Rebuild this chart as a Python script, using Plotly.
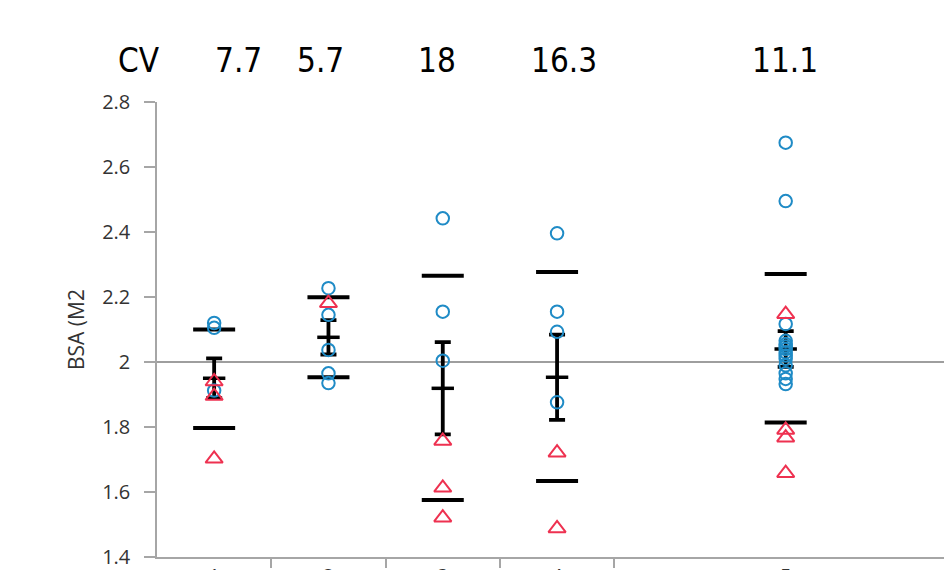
import plotly.graph_objects as go

# ---- data ----
group_x = [1, 2, 3, 4, 6]            # category 5 occupies a wider slot
group_labels = ["1", "2", "3", "4", "5"]
boundaries = [1.5, 2.5, 3.5, 4.5]
cv_text = ["CV", "7.7", "5.7", "18", "16.3", "11.1"]
cv_xpaper = [-0.023, 0.103, 0.208, 0.356, 0.517, 0.798]

circles = [
    [2.12, 2.105, 1.912],
    [2.227, 2.145, 2.037, 1.965, 1.935],
    [2.442, 2.155, 2.004],
    [2.396, 2.155, 2.093, 1.876],
    [2.675, 2.495, 2.117, 2.065, 2.055, 2.048, 2.04, 2.03, 2.02, 2.01,
     1.99, 1.965, 1.948, 1.932],
]
triangles = [
    [1.94, 1.895, 1.702],
    [2.181],
    [1.757, 1.613, 1.521],
    [1.721, 1.488],
    [2.147, 1.791, 1.767, 1.658],
]
means = [1.95, 2.076, 1.919, 1.953, 2.04]
sd_upper = [2.10, 2.199, 2.265, 2.277, 2.271]
sd_lower = [1.797, 1.953, 1.575, 1.634, 1.814]
sem = [0.061, 0.053, 0.142, 0.131, 0.055]

BLUE = "#1F8BC6"
RED = "#EE3150"
GRAY = "#A6A6A6"
TICKFONT = "Open Sans, Noto Sans, DejaVu Sans, sans-serif"

fig = go.Figure()

# SD bars (long black dashes)
fig.add_trace(go.Scatter(
    x=group_x + group_x, y=sd_upper + sd_lower, mode="markers",
    marker=dict(symbol="line-ew", size=30, line=dict(width=4, color="black")),
    hoverinfo="skip", showlegend=False))

# mean +/- SEM
fig.add_trace(go.Scatter(
    x=group_x, y=means, mode="markers",
    marker=dict(symbol="line-ew", size=16, line=dict(width=3.5, color="black")),
    error_y=dict(type="data", array=sem, visible=True, color="black",
                 thickness=3.8, width=8),
    hoverinfo="skip", showlegend=False))

# individual points
cx, cy, tx, ty = [], [], [], []
for gx, vals in zip(group_x, circles):
    cx += [gx] * len(vals)
    cy += vals
for gx, vals in zip(group_x, triangles):
    tx += [gx] * len(vals)
    ty += vals

fig.add_trace(go.Scatter(
    x=cx, y=cy, mode="markers",
    marker=dict(symbol="circle-open", size=12.5, color=BLUE, line=dict(width=2, color=BLUE)),
    showlegend=False))
fig.add_trace(go.Scatter(
    x=tx, y=ty, mode="markers",
    marker=dict(symbol="triangle-up-open", size=15, color=RED, line=dict(width=2, color=RED)),
    showlegend=False))

# CV labels
for t, xp in zip(cv_text, cv_xpaper):
    fig.add_annotation(x=xp, xref="paper", y=1.092, yref="paper", text=t, showarrow=False,
                       xanchor="center", yanchor="middle",
                       font=dict(family="Liberation Sans Narrow, DejaVu Sans Condensed, Roboto, sans-serif",
                                 size=33, color="black"))

fig.update_layout(
    width=944, height=570,
    margin=dict(l=157, r=0, t=102, b=13, autoexpand=False),
    plot_bgcolor="white", paper_bgcolor="white",
    xaxis=dict(range=[0.5, 7.385], tickvals=group_x, ticktext=group_labels,
               ticks="", showgrid=False, zeroline=False, showline=True,
               linecolor=GRAY, linewidth=1.5, automargin=False,
               tickfont=dict(family=TICKFONT, size=20, color="#333333")),
    xaxis2=dict(overlaying="x", matches="x", anchor="y", side="bottom",
                tickvals=boundaries, ticks="outside", ticklen=10, tickwidth=1.5,
                tickcolor=GRAY, showticklabels=False, showgrid=False,
                zeroline=False, showline=False),
    yaxis=dict(range=[1.4, 2.8], tickvals=[1.4, 1.6, 1.8, 2.0, 2.2, 2.4, 2.6, 2.8],
               ticktext=["1.4", "1.6", "1.8", "2", "2.2", "2.4", "2.6", "2.8"],
               ticks="outside", ticklen=11, tickwidth=1.5, tickcolor=GRAY,
               showline=True, linecolor=GRAY, linewidth=1.5, showgrid=False,
               zeroline=False, automargin=False, ticklabelstandoff=10,
               tickfont=dict(family=TICKFONT, size=20, color="#333333"),
               title=dict(text="BSA (M2", standoff=12,
                          font=dict(family=TICKFONT, size=21, color="#333333"))),
    yaxis2=dict(overlaying="y", matches="y", anchor="x", side="left",
                tickvals=[2.0, 2.8], showticklabels=False, ticks="",
                showgrid=True, gridcolor="#9E9E9E", gridwidth=1.5,
                zeroline=False, showline=False),
)
# dummy trace to activate the overlay axes
fig.add_trace(go.Scatter(x=[None], y=[None], xaxis="x2", yaxis="y2",
                         showlegend=False, hoverinfo="skip"))

fig.write_html("out.html", config={"displayModeBar": False},
               post_script="document.body.style.margin='0';document.body.style.overflow='hidden';")
